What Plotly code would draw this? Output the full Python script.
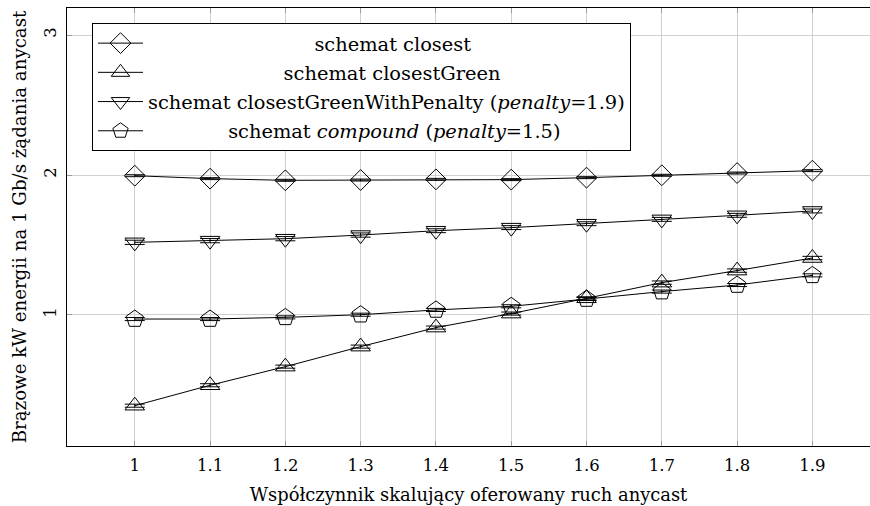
import plotly.graph_objects as go

x_vals = [1.0, 1.1, 1.2, 1.3, 1.4, 1.5, 1.6, 1.7, 1.8, 1.9]

closest = [1.995, 1.974, 1.962, 1.964, 1.969, 1.967, 1.981, 1.998, 2.014, 2.031]
closest_err = [0.007, 0.007, 0.007, 0.007, 0.007, 0.007, 0.007, 0.007, 0.007, 0.007]

closest_green = [0.352, 0.498, 0.631, 0.774, 0.910, 1.010, 1.119, 1.231, 1.317, 1.407]
closest_green_err = [0.011, 0.011, 0.011, 0.011, 0.011, 0.011, 0.011, 0.012, 0.012, 0.012]

penalty = [1.519, 1.531, 1.545, 1.571, 1.602, 1.624, 1.652, 1.683, 1.712, 1.743]
penalty_err = [0.015, 0.015, 0.015, 0.015, 0.014, 0.014, 0.014, 0.014, 0.014, 0.014]

compound = [0.971, 0.971, 0.983, 1.002, 1.036, 1.062, 1.114, 1.167, 1.214, 1.283]
compound_err = [0.011, 0.011, 0.011, 0.011, 0.011, 0.011, 0.011, 0.011, 0.011, 0.011]

NB = "\u00a0"
names = [
    NB * 27 + "schemat closest",
    NB * 22 + "schemat closestGreen",
    "schemat closestGreenWithPenalty (<i>penalty</i>=1.9)",
    NB * 13 + "schemat <i>compound</i> (<i>penalty</i>=1.5)",
]
symbols = ["diamond-open", "triangle-up-open", "triangle-down-open", "pentagon-open"]
sizes = [16, 17, 17, 18]
series = [closest, closest_green, penalty, compound]
errors = [closest_err, closest_green_err, penalty_err, compound_err]

x_ticks = [1, 1.1, 1.2, 1.3, 1.4, 1.5, 1.6, 1.7, 1.8, 1.9]
x_tick_labels = ["1", "1.1", "1.2", "1.3", "1.4", "1.5", "1.6", "1.7", "1.8", "1.9"]
y_ticks = [1, 2, 3]
y_tick_labels = ["1", "2", "3"]

FONT = "DejaVu Serif"

fig = go.Figure()
for i, (name, sym, sz, ys, err) in enumerate(zip(names, symbols, sizes, series, errors)):
    fig.add_trace(go.Scatter(
        x=x_vals, y=ys, mode="markers",
        marker=dict(size=1, color="rgba(0,0,0,0)"),
        error_y=dict(type="data", array=err, visible=True, color="black",
                     thickness=1, width=10),
        showlegend=False, hoverinfo="skip",
    ))
    fig.add_trace(go.Scatter(
        x=x_vals, y=ys, mode="lines+markers", name=name,
        legendgroup=f"g{i}",
        line=dict(color="black", width=1),
        marker=dict(symbol=sym, size=sz, color="black", line=dict(width=1, color="black")),
    ))

fig.update_layout(
    width=870, height=506,
    margin=dict(l=67, r=0, t=8, b=60),
    paper_bgcolor="white", plot_bgcolor="white",
    font=dict(family=FONT, size=16, color="black"),
    showlegend=True,
    legend=dict(
        x=(92 - 67) / 803, y=(446 - 23) / 438, xanchor="left", yanchor="top",
        bordercolor="black", borderwidth=1, bgcolor="white",
        font=dict(family=FONT, size=19.4, color="black"),
        traceorder="grouped", tracegroupgap=1, itemwidth=45,
    ),
    xaxis=dict(
        range=[0.910, 1.9765], tickvals=x_ticks, ticktext=x_tick_labels,
        showgrid=True, gridcolor="#d0d0d0", gridwidth=1,
        ticks="inside", ticklen=5, tickcolor="#999999",
        showline=True, linecolor="black", linewidth=1, mirror="ticks",
        zeroline=False, ticklabelstandoff=4,
        title=dict(text="Współczynnik skalujący oferowany ruch anycast",
                   font=dict(family=FONT, size=17.9), standoff=14),
        tickfont=dict(family=FONT, size=16.5),
    ),
    yaxis=dict(
        range=[0.064, 3.193], tickvals=y_ticks, ticktext=y_tick_labels,
        showgrid=True, gridcolor="#d0d0d0", gridwidth=1,
        ticks="inside", ticklen=5, tickcolor="#999999",
        showline=True, linecolor="black", linewidth=1, mirror=False,
        zeroline=False, tickangle=-90, ticklabelstandoff=3,
        title=dict(text="Brązowe kW energii na 1 Gb/s żądania anycast",
                   font=dict(family=FONT, size=18.2), standoff=10),
        tickfont=dict(family=FONT, size=16.5),
    ),
)

fig.write_html("out.html")
